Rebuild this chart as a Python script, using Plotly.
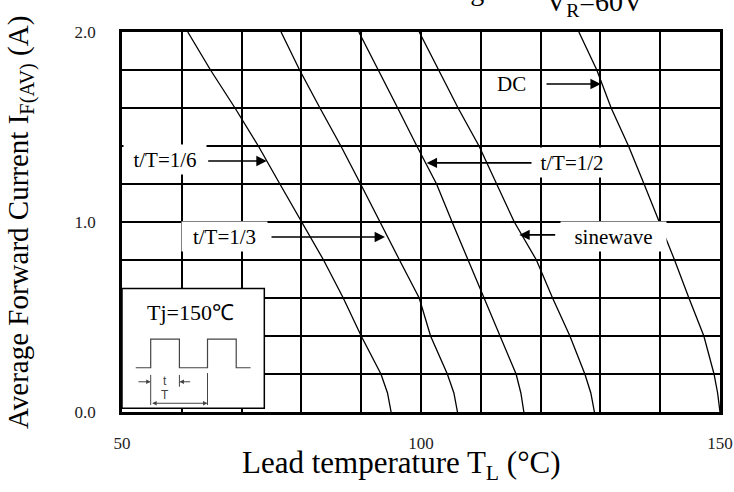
import plotly.graph_objects as go

# Current levels (A) at which the curves were read
current = [2.0, 1.8, 1.6, 1.4, 1.2, 1.0, 0.8, 0.6, 0.4, 0.2, 0.1, 0.0]

# Lead temperature (°C) for each curve at the current levels above
temp_1_6 = [61.0, 64.8, 68.9, 72.8, 76.4, 80.0, 83.7, 87.0, 90.0, 93.3, 94.4, 95.0]
temp_1_3 = [76.6, 79.7, 83.1, 86.6, 89.9, 93.1, 96.4, 99.7, 101.6, 104.4, 105.5, 106.1]
temp_1_2 = [89.6, 92.9, 96.1, 99.3, 102.6, 105.2, 107.9, 110.6, 113.3, 115.9, 116.7, 117.2]
temp_sine = [99.7, 102.9, 106.2, 109.7, 112.7, 115.6, 119.3, 122.0, 124.9, 127.4, 128.4, 129.0]
temp_dc = [126.4, 129.4, 131.8, 134.7, 137.3, 139.9, 142.4, 144.8, 147.3, 149.0, 149.6, 150.0]

x_ticks = [50, 100, 150]
y_ticks = [0.0, 1.0, 2.0]
y_tick_text = ["0.0", "1.0", "2.0"]

FONT = "Liberation Serif"

fig = go.Figure()
for temps in [temp_1_6, temp_1_3, temp_1_2, temp_sine, temp_dc]:
    fig.add_trace(go.Scatter(x=temps, y=current, mode="lines",
                             line=dict(color="black", width=1.3),
                             showlegend=False, hoverinfo="skip"))

fig.update_layout(
    width=734, height=492,
    margin=dict(l=122, r=14, t=32, b=80),
    paper_bgcolor="white", plot_bgcolor="white",
    font=dict(family=FONT, color="black"),
    showlegend=False,
)
fig.update_xaxes(
    range=[50, 150], tickvals=x_ticks, ticktext=[str(v) for v in x_ticks],
    showgrid=True, gridcolor="black", gridwidth=1.5,
    minor=dict(tick0=50, dtick=10, showgrid=True, gridcolor="black", gridwidth=1.5),
    showline=True, linecolor="black", linewidth=2.5, mirror=True,
    ticks="", tickfont=dict(family=FONT, size=17, color="#222"),
    ticklabelstandoff=14, zeroline=False, automargin=False,
)
fig.update_yaxes(
    range=[0, 2], tickvals=y_ticks, ticktext=y_tick_text,
    showgrid=True, gridcolor="black", gridwidth=1.5,
    minor=dict(tick0=0, dtick=0.2, showgrid=True, gridcolor="black", gridwidth=1.5),
    showline=True, linecolor="black", linewidth=2.5, mirror=True,
    ticks="", tickfont=dict(family=FONT, size=17, color="#222"),
    ticklabelstandoff=20, zeroline=False, automargin=False,
)

ann = []
# axis titles
ann.append(dict(text="Lead temperature T<sub>L</sub> (°C)", xref="paper", yref="paper",
                x=0.4666, y=-0.1395, xanchor="center", yanchor="middle",
                showarrow=False, font=dict(family=FONT, size=31)))
ann.append(dict(text="Average Forward Current I<sub>F(AV)</sub> (A)", xref="paper", yref="paper",
                x=-0.1706, y=0.5, xanchor="center", yanchor="middle", textangle=-90,
                showarrow=False, font=dict(family=FONT, size=29)))
# cut-off title
ann.append(dict(text="Forward Current Derating", xref="paper", yref="paper",
                x=0.6087, y=1, xanchor="right", yanchor="bottom", yshift=24,
                showarrow=False, font=dict(family=FONT, size=28)))
ann.append(dict(text="V<sub>R</sub>=60V", xref="paper", yref="paper",
                x=0.7057, y=1, xanchor="left", yanchor="bottom", yshift=9,
                showarrow=False, font=dict(family=FONT, size=28)))

# curve labels (with white background boxes)
labels = [
    ("t/T=1/6", 57.2, 1.329, 80),
    ("t/T=1/3", 67.06, 0.924, 83),
    ("t/T=1/2", 125.25, 1.311, 76),
    ("sinewave", 132.16, 0.923, 103),
    ("DC", 115.13, 1.726, None),
]
for txt, lx, ly, w in labels:
    d = dict(text=txt, x=lx, y=ly, xref="x", yref="y", showarrow=False,
             font=dict(family=FONT, size=21), xanchor="center", yanchor="middle")
    if w:
        d.update(bgcolor="white", width=w, height=27, align="center")
    ann.append(d)

# arrows: (head_x, head_y, tail_x, tail_y)
arrows = [
    (74.2, 1.321, 64.16, 1.321),
    (93.98, 0.921, 74.75, 0.921),
    (100.95, 1.311, 118.73, 1.311),
    (116.44, 0.932, 122.69, 0.932),
    (130.07, 1.726, 120.74, 1.726),
]
for hx, hy, tx, ty in arrows:
    ann.append(dict(text="", x=hx, y=hy, ax=tx, ay=ty, xref="x", yref="y",
                    axref="x", ayref="y", showarrow=True, arrowhead=2,
                    arrowsize=1.3, arrowwidth=1.6, arrowcolor="black"))

# inset text
ann.append(dict(text="Tj=150℃", x=61.4, y=0.526, xref="x", yref="y", showarrow=False,
                font=dict(family=FONT, size=22), xanchor="center", yanchor="middle"))
ann.append(dict(text="t", x=57.2, y=0.163, xref="x", yref="y", showarrow=False,
                font=dict(family="Liberation Sans", size=12, color="#444"),
                xanchor="center", yanchor="middle"))
ann.append(dict(text="T", x=57.2, y=0.092, xref="x", yref="y", showarrow=False,
                font=dict(family="Liberation Sans", size=12, color="#444"),
                xanchor="center", yanchor="middle"))
inset_arrows = [
    (54.8, 0.159, 52.5, 0.159, "end"),
    (59.6, 0.159, 61.65, 0.159, "end"),
    (64.3, 0.046, 54.8, 0.046, "end+start"),
]
for hx, hy, tx, ty, side in inset_arrows:
    ann.append(dict(text="", x=hx, y=hy, ax=tx, ay=ty, xref="x", yref="y",
                    axref="x", ayref="y", showarrow=True, arrowhead=2, arrowside=side,
                    arrowsize=0.9, arrowwidth=1, arrowcolor="#444"))
fig.update_layout(annotations=ann)

shapes = [
    dict(type="rect", xref="x", yref="y", x0=50, x1=73.8, y0=0.02, y1=0.65,
         fillcolor="white", line=dict(color="black", width=1.5), layer="above"),
    dict(type="path", xref="x", yref="y",
         path="M 52.3,0.233 L 54.8,0.233 L 54.8,0.384 L 59.6,0.384 L 59.6,0.233 "
              "L 64.3,0.233 L 64.3,0.384 L 69.1,0.384 L 69.1,0.233 L 71.5,0.233",
         line=dict(color="#444", width=1.2), layer="above"),
    dict(type="line", xref="x", yref="y", x0=54.8, x1=54.8, y0=0.195, y1=0.037,
         line=dict(color="#444", width=1), layer="above"),
    dict(type="line", xref="x", yref="y", x0=64.3, x1=64.3, y0=0.205, y1=0.037,
         line=dict(color="#444", width=1), layer="above"),
    dict(type="line", xref="x", yref="y", x0=59.6, x1=59.6, y0=0.195, y1=0.133,
         line=dict(color="#444", width=1), layer="above"),
]
fig.update_layout(shapes=shapes)

fig.write_html("out.html", config={"displayModeBar": False},
               post_script="document.body.style.margin='0';document.body.style.overflow='hidden';")
